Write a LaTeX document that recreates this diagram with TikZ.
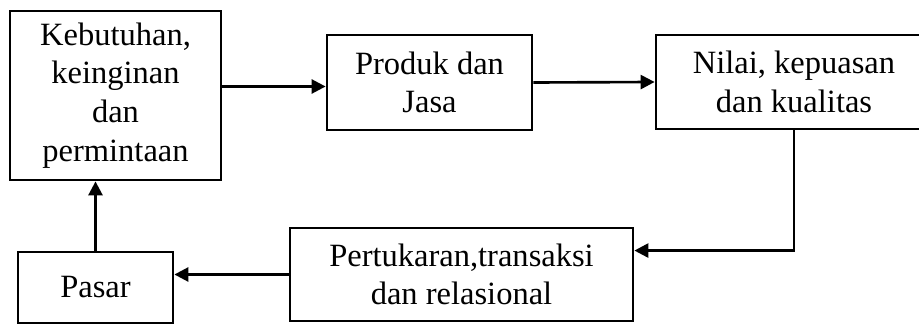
\documentclass[tikz,border=0pt]{standalone}
\usepackage{fontspec}
\setmainfont{Liberation Serif}
\usetikzlibrary{positioning, arrows.meta, calc}
\tikzset{
    blok/.style={rectangle, draw=black, fill=white, line width=1.6pt, align=center, inner sep=2pt, font=\fontsize{18.5}{22}\selectfont},
    panah/.style={-{Triangle[length=8pt, width=8pt]}, line width=1.5pt, color=black}
}
\begin{document}
\begin{tikzpicture}[x=0.02cm, y=-0.02cm]
    \useasboundingbox (0,0) rectangle (919,324);

    % Boxes
    \node[blok, minimum width=4.22cm, minimum height=3.38cm] (kebutuhan) at (115.5, 95.5) {Kebutuhan,\\keinginan\\dan\\permintaan};
    \node[blok, minimum width=4.10cm, minimum height=1.90cm] (produk) at (429.5, 82.5) {Produk dan\\Jasa};
    \node[blok, minimum width=5.52cm, minimum height=1.88cm] (nilai) at (794, 82) {Nilai, kepuasan\\dan kualitas};
    \node[blok, minimum width=6.86cm, minimum height=1.86cm] (pertukaran) at (461.5, 274.5) {Pertukaran,transaksi\\dan relasional};
    \node[blok, minimum width=3.10cm, minimum height=1.42cm] (pasar) at (95.5, 287.5) {Pasar};

    % Arrows
    \draw[panah] ($(kebutuhan.east |- produk.west)+(0,4)$) -- ($(produk.west)+(0,4)$);
    \draw[panah] (produk.east) -- (nilai.west);
    \draw[panah] (nilai.south) |- ($(pertukaran.north east)!0.25!(pertukaran.south east)$);
    \draw[panah] (pertukaran.west) -- (pertukaran.west -| pasar.east);
    \draw[panah] (pasar.north) -- (pasar.north |- kebutuhan.south);
\end{tikzpicture}
\end{document}
